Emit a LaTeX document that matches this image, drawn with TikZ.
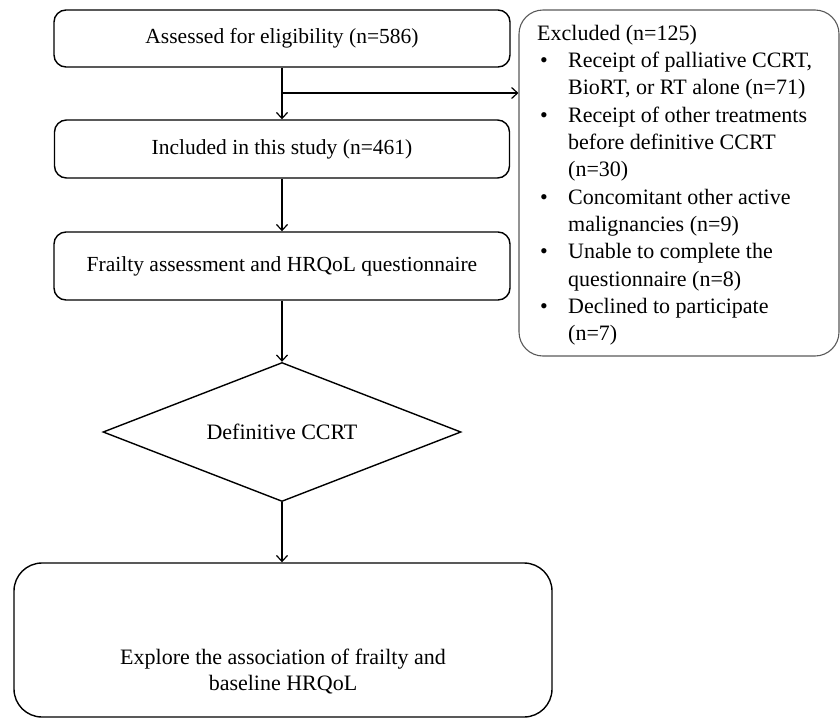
\documentclass[tikz,border=0pt]{standalone}
\usepackage{fontspec}
\setmainfont{Liberation Serif}
\usetikzlibrary{shapes.geometric,arrows.meta}

\tikzset{
  stepbox/.style={draw, line width=1.4pt, rounded corners=12pt, align=center},
  arr/.style={-{Straight Barb[length=6pt,width=11pt]}, line width=1.2pt}
}

\begin{document}
\begin{tikzpicture}[x=1pt, y=-1pt, font=\fontsize{21.5}{27}\selectfont]
    % Canvas
    \useasboundingbox (0,0) rectangle (840,718);

    % Main flow
    \node[stepbox, minimum width=456pt, minimum height=57pt] (assess) at (282,38.5) {Assessed for eligibility (n=586)};
    \node[stepbox, minimum width=455pt, minimum height=58pt] (incl) at (282,149) {Included in this study (n=461)};
    \node[stepbox, minimum width=456pt, minimum height=68pt] (frail) at (282,266) {Frailty assessment and HRQoL questionnaire};
    \node[draw, diamond, line width=1.4pt, aspect=2.56, inner sep=0pt, minimum width=358pt, minimum height=139pt, font=\fontsize{22}{27}\selectfont] (ccrt) at (282,432) {Definitive CCRT};
    \node[stepbox, rounded corners=28pt, minimum width=538pt, minimum height=154pt] (explore) at (283,640) {};
    \node[align=center, font=\fontsize{22}{26}\selectfont] (exploretext) at (283,672) {Explore the association of frailty and\\baseline HRQoL};

    % Excluded box
    \node[draw, black!65, line width=1.1pt, rounded corners=24pt, minimum width=320pt, minimum height=346pt] (excl) at (679,183) {};
    \node[anchor=north west, inner sep=0pt, font=\fontsize{22}{27.3}\selectfont] (excltext) at (537,21) {%
      \begin{tabular}{@{}p{31pt}@{}l@{}}
        \multicolumn{2}{@{}l}{Excluded (n=125)}\\
        \hspace{3pt}\textbullet & Receipt of palliative CCRT,\\
                    & BioRT, or RT alone (n=71)\\
        \hspace{3pt}\textbullet & Receipt of other treatments\\
                    & before definitive CCRT\\
                    & (n=30)\\
        \hspace{3pt}\textbullet & Concomitant other active\\
                    & malignancies (n=9)\\
        \hspace{3pt}\textbullet & Unable to complete the\\
                    & questionnaire (n=8)\\
        \hspace{3pt}\textbullet & Declined to participate\\
                    & (n=7)
      \end{tabular}};

    % Connectors
    \coordinate (split) at (assess.south |- 0,93);
    \draw[arr] (assess.south) -- (incl.north);
    \draw[arr] (split) -- (excl.west |- split);
    \draw[arr] (incl.south) -- (frail.north);
    \draw[arr] (frail.south) -- (ccrt.north);
    \draw[arr] (ccrt.south) -- (explore.north -| ccrt.south);
\end{tikzpicture}
\end{document}
